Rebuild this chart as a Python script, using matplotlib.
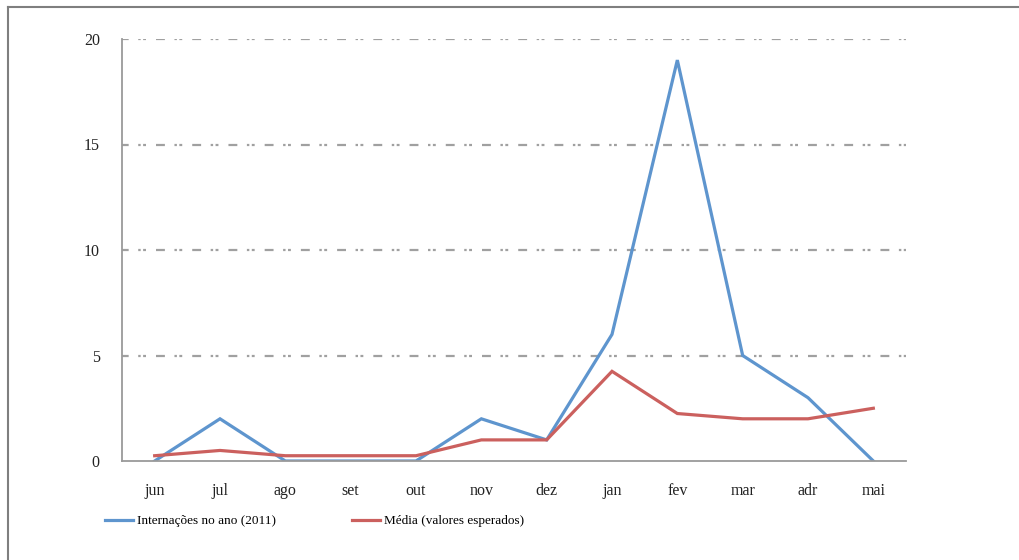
import matplotlib.pyplot as plt
from matplotlib.lines import Line2D

plt.rcParams['font.family'] = ['Liberation Serif', 'DejaVu Serif']

months = ['jun', 'jul', 'ago', 'set', 'out', 'nov', 'dez', 'jan', 'fev', 'mar', 'adr', 'mai']
internacoes = [0, 2, 0, 0, 0, 2, 1, 6, 19, 5, 3, 0]
media = [0.25, 0.5, 0.25, 0.25, 0.25, 1, 1, 4.25, 2.25, 2, 2, 2.5]
yticks = [0, 5, 10, 15, 20]

blue = '#5E95CE'
red = '#CB605E'
grid_gray = '#A0A0A0'
axis_gray = '#9A9A9A'

fig = plt.figure(figsize=(10.19, 5.6), dpi=100)
ax = fig.add_axes([122 / 1019, 1 - 461 / 560, (906 - 122) / 1019, (461 - 39) / 560])

x = range(len(months))
ax.plot(x, internacoes, color=blue, lw=2.3, label='Internações no ano (2011)', solid_joinstyle='miter')
ax.plot(x, media, color=red, lw=2.3, label='Média (valores esperados)', solid_joinstyle='miter')

# dash-dot-dot gridlines
for yv in yticks[1:]:
    ax.axhline(yv, color=grid_gray, lw=1.6, linestyle=(1, (4, 4.3, 1.1, 1.1, 1.3, 4.5)), zorder=0)

ax.set_xlim(-0.5, len(months) - 0.5)
ax.set_ylim(0, 20)
ax.set_xticks(list(x))
ax.set_xticklabels(months)
ax.set_yticks(yticks)
ax.tick_params(axis='both', length=0, labelsize=11.5, colors='#222222')
ax.tick_params(axis='x', pad=16)
ax.tick_params(axis='y', pad=16)
for s in ['top', 'right']:
    ax.spines[s].set_visible(False)
for s in ['left', 'bottom']:
    ax.spines[s].set_color(axis_gray)
    ax.spines[s].set_linewidth(1.3)

leg = fig.legend(loc='center left', bbox_to_anchor=(93 / 1019, 1 - 521 / 560), ncol=2,
                 frameon=False, fontsize=9.5, handlelength=2.1, handletextpad=0.3,
                 columnspacing=5.8)

# outer frame (left and top)
fig.add_artist(Line2D([8 / 1019, 8 / 1019], [0, 1 - 7 / 560], color='#7F7F7F', lw=1.5))
fig.add_artist(Line2D([8 / 1019, 1], [1 - 7 / 560, 1 - 7 / 560], color='#7F7F7F', lw=1.5))

fig.savefig('out.png', dpi=100)
